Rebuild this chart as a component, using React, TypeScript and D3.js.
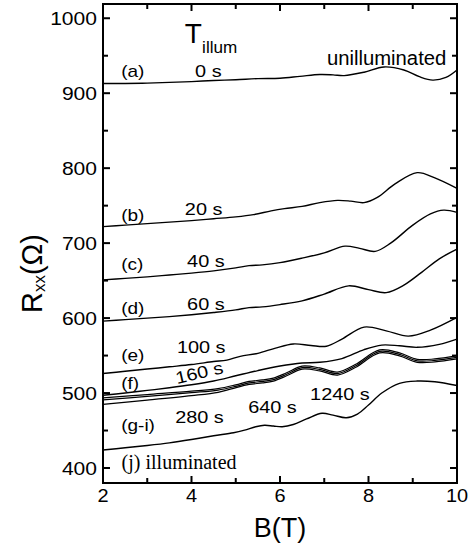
import React from 'react';
import * as d3 from 'd3';

const W = 474;
const H = 546;

const xTicks = [2, 4, 6, 8, 10];
const xMinor = [3, 5, 7, 9];
const yTicks = [400, 500, 600, 700, 800, 900, 1000];
const yMinor = [450, 550, 650, 750, 850, 950];

// (a) 0 s, unilluminated
const curveA: [number, number][] = [
  [2, 913], [2.5, 913], [3, 913.5], [3.5, 914.5], [4, 915.5], [4.5, 917], [5, 918],
  [5.5, 919.5], [6, 920], [6.45, 922.5], [6.9, 925], [7.2, 924.5], [7.45, 923.5],
  [7.9, 928], [8.35, 935], [8.8, 931], [9.15, 922], [9.45, 917.5], [9.75, 921], [10, 931],
];
// (b) 20 s
const curveB: [number, number][] = [
  [2, 722], [2.5, 724], [3, 726], [3.5, 728], [4, 730], [4.5, 732.5], [5, 735],
  [5.4, 738], [5.8, 743], [6.1, 746], [6.5, 749], [6.9, 754], [7.3, 757], [7.6, 756],
  [7.9, 754], [8.2, 761], [8.6, 779], [9.1, 794], [9.5, 787], [10, 773],
];
// (c) 40 s
const curveC: [number, number][] = [
  [2, 651], [2.5, 653], [3, 655], [3.5, 657.5], [4, 660], [4.5, 663], [5, 667],
  [5.3, 670], [5.6, 671], [6, 674], [6.5, 680], [7, 687], [7.47, 696], [7.8, 693],
  [8.15, 689], [8.5, 700], [9, 724], [9.4, 739], [9.7, 744], [10, 741],
];
// (d) 60 s
const curveD: [number, number][] = [
  [2, 596], [2.5, 598], [3, 600], [3.5, 602], [4, 604.5], [4.5, 607.5], [5, 611],
  [5.3, 614], [5.6, 615], [6, 618], [6.5, 623], [7, 632], [7.55, 643], [8, 638],
  [8.4, 634], [8.8, 644], [9.2, 661], [9.6, 679], [10, 692],
];
// (e) 100 s
const curveE: [number, number][] = [
  [2, 526], [2.5, 529], [3, 532], [3.5, 535], [4, 538], [4.5, 542], [4.8, 544],
  [5.1, 549], [5.5, 553], [5.9, 560], [6.3, 565.5], [6.7, 563.5], [7.05, 562.5], [7.4, 572],
  [7.9, 588], [8.4, 583], [8.9, 576], [9.4, 584], [10, 601],
];
// (f) 160 s
const curveF: [number, number][] = [
  [2, 497], [2.5, 500], [3, 503.5], [3.5, 507], [4, 511], [4.5, 516], [5, 523],
  [5.5, 530], [6, 536], [6.5, 540], [6.9, 541], [7.4, 546], [7.9, 558], [8.3, 564],
  [8.7, 563], [9.1, 561], [9.6, 565], [10, 572],
];
// (g) 280 s
const curveG: [number, number][] = [
  [2, 493.5], [3, 498], [4, 502.5], [4.6, 506], [5, 511], [5.3, 515.5], [5.6, 517.5],
  [5.85, 520], [6.15, 527], [6.5, 536], [6.9, 533.5], [7.3, 528], [7.7, 538], [8.25, 557.5],
  [8.7, 553.5], [9.1, 545], [9.5, 545.5], [10, 549.5],
];
// (h) 640 s
const curveH: [number, number][] = [
  [2, 491], [3, 495.5], [4, 500.5], [4.6, 504], [5, 509], [5.3, 513.5], [5.6, 515.5],
  [5.85, 518], [6.15, 525], [6.5, 534], [6.9, 531.5], [7.3, 526], [7.7, 536], [8.25, 555.5],
  [8.7, 551.5], [9.1, 543], [9.5, 543.5], [10, 547.5],
];
// (i) 1240 s
const curveI: [number, number][] = [
  [2, 485], [3, 490.5], [4, 496.5], [4.6, 501], [4.9, 505.5], [5.3, 511.5], [5.6, 513.5],
  [5.85, 516], [6.15, 523], [6.5, 532], [6.9, 529.5], [7.3, 524], [7.7, 534], [8.25, 553.5],
  [8.7, 549.5], [9.1, 541], [9.5, 541.5], [10, 545.5],
];
// (j) illuminated
const curveJ: [number, number][] = [
  [2, 424], [2.5, 427], [3, 430], [3.5, 433.5], [4, 438], [4.5, 443], [4.95, 447],
  [5.2, 450.5], [5.45, 455], [5.65, 457], [5.85, 456], [6.05, 455], [6.3, 458], [6.6, 465.5],
  [6.95, 473], [7.2, 470.5], [7.5, 467], [7.75, 472], [8.0, 484], [8.3, 500], [8.7, 513],
  [9.1, 516], [9.5, 515], [10, 510],
];

const curves = [curveA, curveB, curveC, curveD, curveE, curveF, curveG, curveH, curveI, curveJ];

const curveLetters = ['(a)', '(b)', '(c)', '(d)', '(e)', '(f)', '(g-i)', '(j) illuminated'];
const letterR = [921.6, 729.5, 664.1, 606.1, 542.7, 505.4, 449.4, 398.7];
const timeLabels = ['0 s', '20 s', '40 s', '60 s', '100 s', '160 s', '280 s', '640 s', '1240 s'];
const timeB = [4.08, 3.85, 3.9, 3.9, 3.67, 3.67, 3.63, 5.28, 6.68];
const timeR = [921.6, 737.5, 668.1, 610.8, 553.4, 512.1, 460.1, 473.4, 490.8];

const x = d3.scaleLinear().domain([2, 10]).range([103, 457]);
const y = d3.scaleLinear().domain([380, 1019]).range([483, 4]);

const line = d3
  .line<[number, number]>()
  .x((d) => x(d[0]))
  .y((d) => y(d[1]))
  .curve(d3.curveCatmullRom.alpha(0.5));

const SANS = 'Liberation Sans, Arial, Helvetica, sans-serif';
const SERIF = 'Liberation Serif, Times New Roman, serif';

function Label(props: {
  px: number; py: number; size: number; sx?: number; anchor?: string; rot?: number;
  family?: string; children: React.ReactNode;
}) {
  const { px, py, size, sx = 1, anchor = 'start', rot = 0, family = SANS, children } = props;
  return (
    <g transform={`translate(${px},${py}) rotate(${rot}) scale(${sx},1)`}>
      <text x={0} y={0} fontSize={size} fontFamily={family} textAnchor={anchor as any} fill="#000">
        {children}
      </text>
    </g>
  );
}

export default function App() {
  const left = x(2), right = x(10), top = y(1019), bottom = y(380);
  const major = 7, minor = 5;
  return (
    <svg width={W} height={H} style={{ position: 'absolute', left: 0, top: 0, background: '#fff' }}>
      <rect x={0} y={0} width={W} height={H} fill="#fff" />
      {curves.map((c, i) => (
        <path key={i} d={line(c) || ''} fill="none" stroke="#000" strokeWidth={i >= 6 && i <= 8 ? 1.2 : 1.4} />
      ))}
      <rect x={left} y={top} width={right - left} height={bottom - top} fill="none" stroke="#000" strokeWidth={2} />
      {xTicks.map((t) => (
        <g key={'xt' + t}>
          <line x1={x(t)} x2={x(t)} y1={bottom} y2={bottom - major} stroke="#000" strokeWidth={2} />
          <line x1={x(t)} x2={x(t)} y1={top} y2={top + major} stroke="#000" strokeWidth={2} />
          <Label px={x(t)} py={502} size={19} sx={1.05} anchor="middle">{String(t)}</Label>
        </g>
      ))}
      {xMinor.map((t) => (
        <g key={'xm' + t}>
          <line x1={x(t)} x2={x(t)} y1={bottom} y2={bottom - minor} stroke="#000" strokeWidth={2} />
          <line x1={x(t)} x2={x(t)} y1={top} y2={top + minor} stroke="#000" strokeWidth={2} />
        </g>
      ))}
      {yTicks.map((t) => (
        <g key={'yt' + t}>
          <line x1={left} x2={left + major} y1={y(t)} y2={y(t)} stroke="#000" strokeWidth={2} />
          <line x1={right} x2={right - major} y1={y(t)} y2={y(t)} stroke="#000" strokeWidth={2} />
          <Label px={97} py={y(t) + 6.5} size={18} sx={1.17} anchor="end">{String(t)}</Label>
        </g>
      ))}
      {yMinor.map((t) => (
        <g key={'ym' + t}>
          <line x1={left} x2={left + minor} y1={y(t)} y2={y(t)} stroke="#000" strokeWidth={2} />
          <line x1={right} x2={right - minor} y1={y(t)} y2={y(t)} stroke="#000" strokeWidth={2} />
        </g>
      ))}
      <Label px={280} py={537} size={27} anchor="middle">B(T)</Label>
      <g transform="translate(42,313) rotate(-90)">
        <text x={0} y={0} fontFamily={SANS} fontSize={29} fill="#000">
          R<tspan fontSize={17} dy={3}>xx</tspan>
          <tspan dy={-3}>(Ω)</tspan>
        </text>
      </g>
      <Label px={x(3.85)} py={y(966.6)} size={28}>T</Label>
      <Label px={x(4.24)} py={y(953.2)} size={16} sx={1.07}>illum</Label>
      <Label px={x(7.06)} py={y(937.6)} size={19.5} sx={1.04}>unilluminated</Label>
      {curveLetters.map((t, i) =>
        i === curveLetters.length - 1 ? (
          <Label key={'l' + i} px={x(2.42)} py={y(letterR[i])} size={20} family={SERIF}>{t}</Label>
        ) : (
          <Label key={'l' + i} px={x(2.41)} py={y(letterR[i])} size={17} sx={1.12}>{t}</Label>
        )
      )}
      {timeLabels.map((t, i) => (
        <Label key={'t' + i} px={x(timeB[i])} py={y(timeR[i])} size={17} sx={1.17} rot={t === '160 s' ? -13 : 0}>{t}</Label>
      ))}
    </svg>
  );
}
